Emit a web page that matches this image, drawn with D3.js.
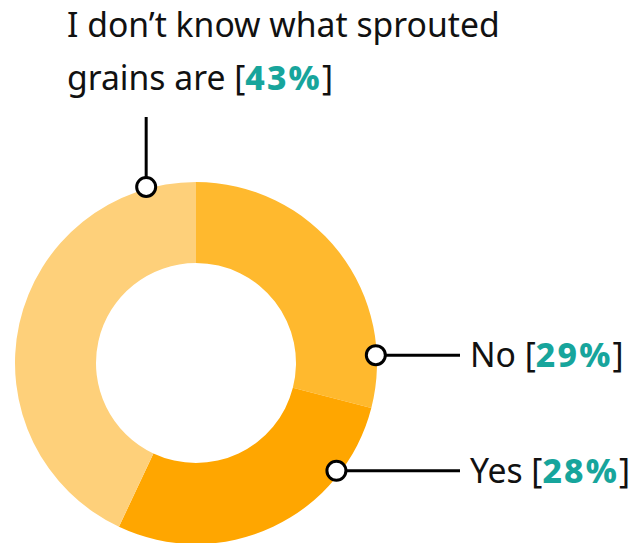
<!DOCTYPE html>
<html>
<head>
<meta charset="utf-8">
<script src="https://d3js.org/d3.v7.min.js"></script>
<style>
  body { margin: 0; background: #fff; }
  svg { display: block; font-family: "Noto Sans", "Open Sans", sans-serif; }
</style>
</head>
<body>
<script>
// data
const categories = ["No", "Yes", "I don\u2019t know what sprouted grains are"];
const values = [29, 28, 43];
const colors = ["#ffb92e", "#ffa600", "#fed07a"];

const width = 633, height = 543;
const cx = 196, cy = 363;
const outerR = 181, innerR = 100;

const svg = d3.select("body").append("svg")
    .attr("width", width)
    .attr("height", height);

const pie = d3.pie().sort(null).value(d => d);
const arc = d3.arc().innerRadius(innerR).outerRadius(outerR);

const g = svg.append("g").attr("transform", `translate(${cx},${cy})`);

g.selectAll("path")
  .data(pie(values))
  .enter().append("path")
    .attr("d", arc)
    .attr("fill", (d, i) => colors[i]);

// label anchors (angle in degrees from 12 o'clock)
const anchors = [
  {angle: 87.5, r: 180},
  {angle: 127.5, r: 177},
  {angle: 344.2, r: 183}
];
const pt = a => {
  const t = a.angle * Math.PI / 180;
  return [cx + a.r * Math.sin(t), cy - a.r * Math.cos(t)];
};

const labels = svg.append("g");
const fs = 33.7;

function pct(t, v) {
  t.append("tspan").attr("font-weight", 800).attr("letter-spacing", 2.2)
    .attr("fill", "#17a59c").text(v + "%");
  t.append("tspan").text("]");
}

// right side labels: No, Yes
[0, 1].forEach(i => {
  const [x, y] = pt(anchors[i]);
  labels.append("line")
    .attr("x1", x).attr("y1", y).attr("x2", 460).attr("y2", y)
    .attr("stroke", "#000").attr("stroke-width", 3);
  labels.append("circle")
    .attr("cx", x).attr("cy", y).attr("r", 9.5)
    .attr("fill", "#fff").attr("stroke", "#000").attr("stroke-width", 3);
  const t = labels.append("text")
    .attr("x", 470).attr("y", y + 12)
    .attr("font-size", fs).attr("fill", "#111");
  t.append("tspan").text(categories[i] + " [");
  pct(t, values[i]);
});

// top label
{
  const [x, y] = pt(anchors[2]);
  labels.append("line")
    .attr("x1", x).attr("y1", y).attr("x2", x).attr("y2", 117)
    .attr("stroke", "#000").attr("stroke-width", 3);
  labels.append("circle")
    .attr("cx", x).attr("cy", y).attr("r", 9.5)
    .attr("fill", "#fff").attr("stroke", "#000").attr("stroke-width", 3);
  const t = labels.append("text")
    .attr("font-size", fs).attr("fill", "#111");
  t.append("tspan").attr("x", 67).attr("y", 37).text("I don\u2019t know what sprouted");
  t.append("tspan").attr("x", 67).attr("y", 90).text("grains are [");
  pct(t, values[2]);
}
</script>
</body>
</html>
